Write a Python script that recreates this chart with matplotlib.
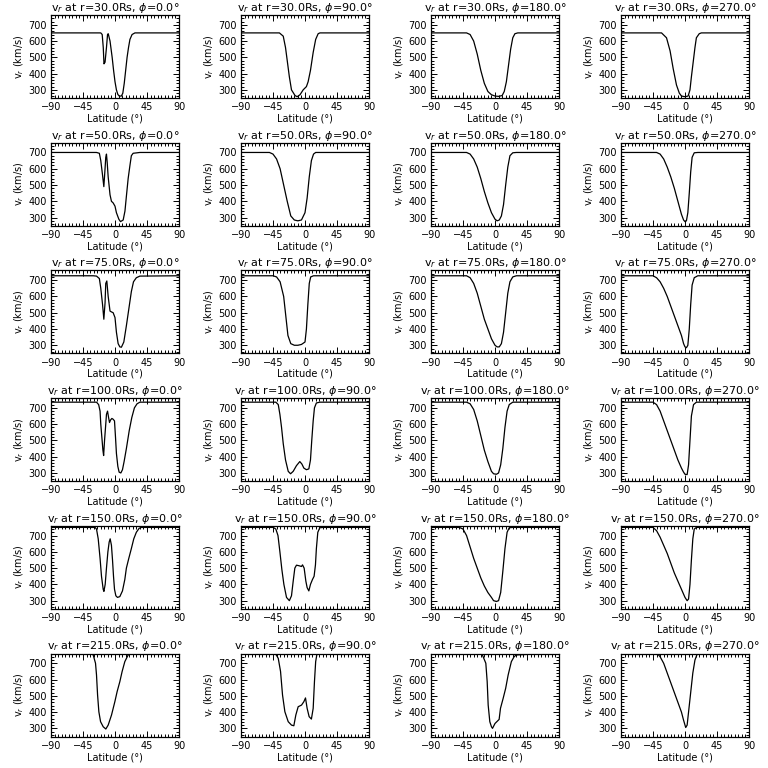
import matplotlib.pyplot as plt
from matplotlib.ticker import MultipleLocator

radii = [30.0, 50.0, 75.0, 100.0, 150.0, 215.0]  # Rs
phis = [0.0, 90.0, 180.0, 270.0]  # deg

# r = 30 Rs
lat_30_0 = [-90, -20, -18, -16.5, -15.5, -14, -12, -10.5, -9.5, -7, -4, -2, 0, 2, 4, 6, 9, 11, 13, 15, 17, 19, 21, 24, 28, 90]
v_30_0 = [650, 650, 640, 560, 460, 470, 560, 640, 645, 600, 500, 420, 350, 300, 272, 262, 262, 280, 340, 420, 500, 560, 610, 640, 650, 650]
lat_30_90 = [-90, -36, -30.6, -27.4, -25, -22, -19, -14, -11, -7, -2.6, 2, 4.4, 7.7, 11.5, 15, 18.5, 21, 90]
v_30_90 = [650, 650, 630, 560, 480, 380, 300, 265, 258, 270, 300, 320, 350, 420, 530, 610, 645, 650, 650]
lat_30_180 = [-90, -40, -35, -30, -25, -20, -15, -10, -5, 0, 5, 10, 13, 16, 19, 22, 25, 28, 32, 90]
v_30_180 = [650, 650, 640, 600, 520, 420, 340, 290, 270, 262, 260, 265, 290, 350, 450, 550, 620, 645, 650, 650]
lat_30_270 = [-90, -33, -26, -21, -16.6, -12, -8, -5, 0, 4.4, 7, 9, 11.5, 14, 16, 20, 23, 90]
v_30_270 = [650, 650, 620, 540, 430, 330, 280, 262, 258, 262, 300, 380, 470, 560, 620, 645, 650, 650]

# r = 50 Rs
lat_50_0 = [-90, -26, -22, -20, -17.5, -15.7, -14, -13, -12, -11, -9.6, -7, -5, -2.6, 0, 2, 5.4, 7.7, 11.5, 14, 16, 18.5, 21, 23, 25.5, 35, 90]
v_50_0 = [700, 700, 695, 650, 560, 490, 600, 670, 690, 640, 550, 440, 400, 390, 370, 330, 290, 275, 285, 340, 430, 540, 620, 680, 695, 700, 700]
lat_50_90 = [-90, -50, -45, -40, -35, -30, -25, -20, -15, -10, -5, 0, 3, 6, 9, 12, 15, 90]
v_50_90 = [700, 700, 690, 660, 600, 500, 400, 310, 285, 280, 285, 330, 420, 550, 650, 690, 700, 700]
lat_50_180 = [-90, -40, -35, -30, -25, -20, -15, -10, -5, 0, 3, 6, 9, 12, 15, 18, 21, 25, 30, 90]
v_50_180 = [700, 700, 690, 660, 610, 540, 460, 390, 330, 290, 280, 285, 310, 380, 500, 610, 680, 698, 700, 700]
lat_50_270 = [-90, -40, -35, -30, -25, -20, -15, -10, -5, -2, 0, 2, 4, 6, 8, 10, 13, 18, 90]
v_50_270 = [700, 700, 690, 660, 610, 550, 480, 400, 320, 285, 275, 280, 330, 450, 580, 670, 698, 700, 700]

# r = 75 Rs
lat_75_0 = [-90, -30.6, -26, -22, -20, -17.5, -15.7, -14, -13, -11.5, -9.6, -7, -5, -2.6, 0, 2, 4.4, 6.8, 9, 12.4, 16, 20, 23, 26, 30, 35, 90]
v_75_0 = [727, 727, 725, 710, 650, 550, 460, 560, 680, 695, 600, 510, 505, 500, 470, 380, 310, 290, 288, 320, 420, 540, 630, 690, 715, 725, 727]
lat_75_90 = [-90, -45, -40, -35, -30, -27, -24, -20, -15, -10, -5, 0, 2, 4, 6, 8, 12, 90]
v_75_90 = [727, 727, 720, 690, 600, 480, 360, 310, 300, 300, 305, 320, 400, 550, 680, 720, 727, 727]
lat_75_180 = [-90, -40, -35, -30, -25, -20, -15, -10, -5, 0, 3, 6, 9, 12, 15, 18, 21, 25, 30, 90]
v_75_180 = [727, 727, 715, 680, 620, 540, 460, 400, 340, 300, 290, 290, 310, 380, 500, 620, 690, 720, 727, 727]
lat_75_270 = [-90, -45, -40, -35, -30, -25, -20, -15, -10, -5, -2, 0, 2, 4, 6, 8, 10, 13, 18, 90]
v_75_270 = [727, 727, 715, 690, 650, 600, 540, 480, 420, 360, 310, 290, 285, 300, 400, 550, 670, 715, 727, 727]

# r = 100 Rs
lat_100_0 = [-90, -26, -23, -21, -20, -18.5, -17, -16, -14.7, -13, -12, -10.5, -9, -7.7, -6.3, -4.4, -2.6, -0.7, 0.7, 2, 4, 5.8, 8.2, 10.5, 12.8, 16, 20, 23.6, 27.3, 31, 35, 90]
v_100_0 = [735, 735, 720, 680, 600, 520, 440, 407, 500, 600, 660, 680, 640, 610, 625, 635, 630, 620, 520, 420, 340, 305, 300, 320, 370, 450, 560, 640, 700, 725, 735, 735]
lat_100_90 = [-90, -41, -37.6, -35.3, -33, -30.6, -27.4, -23.6, -20.3, -16.6, -12, -7.3, -4.4, -1.6, 2, 5.4, 7.7, 9.5, 11.5, 13.3, 16, 20.6, 90]
v_100_90 = [735, 735, 720, 660, 580, 480, 380, 310, 295, 310, 345, 370, 355, 330, 320, 325, 380, 500, 620, 700, 730, 735, 735]
lat_100_180 = [-90, -40, -35, -30, -25, -20, -15, -10, -5, -2, 2, 5, 8, 11, 14, 17, 20, 25, 90]
v_100_180 = [735, 735, 725, 690, 620, 530, 440, 370, 310, 295, 292, 300, 350, 450, 580, 680, 720, 735, 735]
lat_100_270 = [-90, -45, -40, -35, -30, -25, -20, -15, -10, -5, -2, 0, 3, 5, 7, 9, 12, 16, 90]
v_100_270 = [735, 735, 720, 680, 620, 560, 500, 440, 380, 330, 305, 292, 290, 350, 500, 650, 720, 735, 735]

# r = 150 Rs
lat_150_0 = [-90, -28, -26, -23.6, -21, -19, -16.6, -15.6, -13.8, -12, -10, -8.2, -6.8, -5, -3.5, -2.1, -0.7, 1.2, 3.5, 6.8, 10.5, 13.8, 16, 19.4, 23, 26.4, 30, 34, 37, 90]
v_150_0 = [750, 750, 740, 680, 560, 450, 370, 357, 400, 500, 600, 660, 680, 640, 550, 450, 370, 330, 320, 325, 360, 430, 500, 560, 620, 680, 720, 745, 750, 750]
lat_150_90 = [-90, -44.6, -41, -38, -35.3, -32.5, -29.7, -26, -22, -19, -16.6, -14.3, -12, -8.7, -5, -3.5, -1.2, 1.2, 3, 5.4, 7.7, 10.5, 12.8, 14.7, 16, 18, 20.8, 25.5, 90]
v_150_90 = [750, 750, 740, 700, 600, 490, 400, 320, 300, 330, 420, 500, 518, 515, 510, 520, 500, 420, 380, 360, 400, 430, 450, 520, 620, 720, 748, 750, 750]
lat_150_180 = [-90, -50, -45, -40, -35, -30, -25, -20, -15, -10, -5, -2, 2, 5, 8, 11, 14, 17, 20, 25, 90]
v_150_180 = [750, 750, 740, 700, 630, 560, 500, 440, 390, 350, 320, 300, 295, 300, 350, 480, 620, 720, 748, 750, 750]
lat_150_270 = [-90, -45, -40, -35, -30, -25, -20, -15, -10, -5, 0, 3, 5, 7, 9, 11, 13, 16, 90]
v_150_270 = [750, 750, 730, 690, 640, 590, 530, 470, 420, 370, 320, 300, 310, 400, 550, 680, 740, 750, 750]

# r = 215 Rs
lat_215_0 = [-90, -34, -30.6, -27.4, -26, -24.5, -22.7, -20.3, -16.6, -12.9, -9.6, -4.9, -0.2, 3, 6.8, 10, 13.8, 18.5, 23, 90]
v_215_0 = [765, 765, 750, 700, 628, 505, 402, 341, 310, 296, 320, 382, 464, 526, 587, 649, 710, 751, 762, 765]
lat_215_90 = [-90, -42.3, -37.6, -34.4, -31.6, -28.3, -23.6, -19, -15.7, -12.9, -9.6, -4.9, -1.6, 0.7, 3, 5.8, 9, 11.5, 13.3, 15, 17, 90]
v_215_90 = [765, 765, 730, 650, 505, 402, 341, 320, 316, 382, 433, 443, 464, 487, 423, 372, 357, 423, 587, 710, 762, 765]
lat_215_180 = [-90, -19, -12.9, -11, -9.6, -7.3, -5, -3.5, 0, 5.8, 7.7, 11.5, 15, 18.5, 23, 27, 30, 90]
v_215_180 = [765, 765, 700, 587, 443, 341, 310, 300, 330, 355, 423, 485, 546, 628, 710, 741, 751, 765]
lat_215_270 = [-90, -40, -35, -30, -25, -20, -15, -10, -5, -2, 1, 3, 5, 8, 11, 14, 17, 20, 90]
v_215_270 = [765, 765, 740, 700, 640, 580, 520, 460, 400, 350, 305, 320, 400, 520, 640, 720, 755, 765, 765]

curves = [
    [(lat_30_0, v_30_0), (lat_30_90, v_30_90), (lat_30_180, v_30_180), (lat_30_270, v_30_270)],
    [(lat_50_0, v_50_0), (lat_50_90, v_50_90), (lat_50_180, v_50_180), (lat_50_270, v_50_270)],
    [(lat_75_0, v_75_0), (lat_75_90, v_75_90), (lat_75_180, v_75_180), (lat_75_270, v_75_270)],
    [(lat_100_0, v_100_0), (lat_100_90, v_100_90), (lat_100_180, v_100_180), (lat_100_270, v_100_270)],
    [(lat_150_0, v_150_0), (lat_150_90, v_150_90), (lat_150_180, v_150_180), (lat_150_270, v_150_270)],
    [(lat_215_0, v_215_0), (lat_215_90, v_215_90), (lat_215_180, v_215_180), (lat_215_270, v_215_270)],
]

fig = plt.figure(figsize=(7.68, 7.68), dpi=100)

W, H = 768.0, 768.0
left0, top0 = 51, 15
ax_w, ax_h = 128, 83
dx, dy = 190, 127.7

for i, r in enumerate(radii):
    for j, phi in enumerate(phis):
        x0 = (left0 + j * dx) / W
        y0 = 1 - (top0 + i * dy + ax_h) / H
        ax = fig.add_axes([x0, y0, ax_w / W, ax_h / H])
        lat, v = curves[i][j]
        ax.plot(lat, v, color='black', lw=0.9)
        ax.set_xlim(-90, 90)
        ax.set_ylim(250, 760)
        ax.set_xticks([-90, -45, 0, 45, 90])
        ax.set_yticks([300, 400, 500, 600, 700])
        ax.xaxis.set_minor_locator(MultipleLocator(5))
        ax.yaxis.set_minor_locator(MultipleLocator(20))
        ax.tick_params(which='both', direction='in', top=True, right=True,
                       labelsize=7, width=0.7)
        ax.tick_params(which='major', length=4, pad=3)
        ax.tick_params(which='minor', length=2)
        for s in ax.spines.values():
            s.set_linewidth(0.9)
        ax.set_title(r'v$_r$ at r=%.1fRs, $\phi$=%.1f°' % (r, phi), fontsize=8, pad=3)
        ax.set_ylabel(r'v$_r$ (km/s)', fontsize=7, labelpad=2)
        ax.set_xlabel('Latitude (°)', fontsize=7, labelpad=1)

fig.savefig('out.png', dpi=100)
